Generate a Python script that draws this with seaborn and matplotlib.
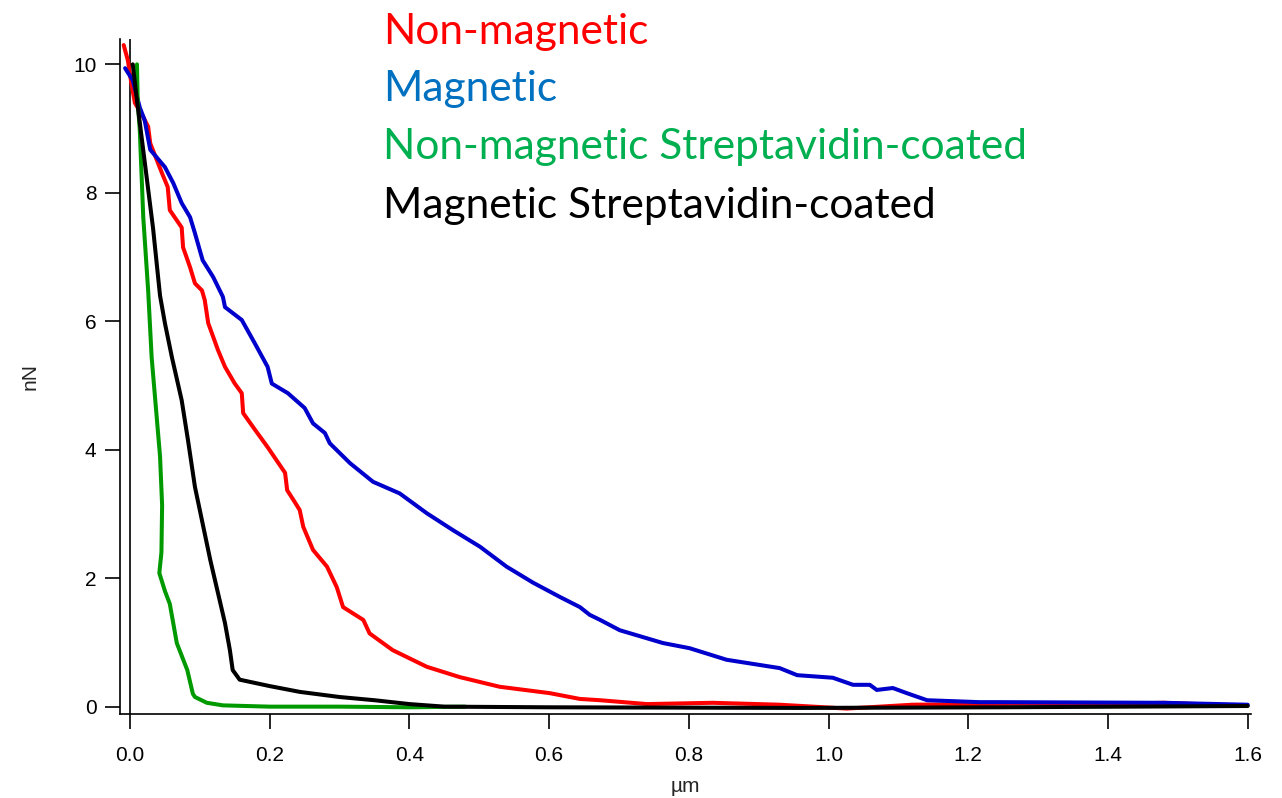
import matplotlib
matplotlib.use("Agg")
import matplotlib.pyplot as plt
import seaborn as sns
import pandas as pd

# force (nN) vs separation (um)
red_x = [-0.009, -0.003, 0.002, 0.007, 0.018, 0.026, 0.029, 0.046, 0.054, 0.057, 0.074, 0.076,
         0.086, 0.093, 0.103, 0.107, 0.112, 0.126, 0.136, 0.15, 0.16, 0.162, 0.179, 0.197,
         0.222, 0.225, 0.235, 0.243, 0.248, 0.262, 0.282, 0.296, 0.305, 0.334, 0.343, 0.376,
         0.425, 0.472, 0.529, 0.601, 0.644, 0.673, 0.74, 0.834, 0.93, 1.026, 1.12, 1.216,
         1.3, 1.4, 1.48, 1.55]
red_y = [10.3, 10.06, 9.7, 9.4, 9.2, 9.03, 8.77, 8.3, 8.09, 7.73, 7.46, 7.15,
         6.84, 6.59, 6.48, 6.33, 5.97, 5.55, 5.29, 5.03, 4.88, 4.57, 4.31, 4.04,
         3.64, 3.37, 3.2, 3.06, 2.8, 2.44, 2.18, 1.86, 1.55, 1.35, 1.14, 0.88,
         0.62, 0.46, 0.31, 0.21, 0.12, 0.1, 0.04, 0.06, 0.03, -0.03, 0.03, 0.04,
         0.05, 0.04, 0.06, 0.03]

blue_x = [-0.007, 0.004, 0.014, 0.021, 0.029, 0.05, 0.062, 0.074, 0.086, 0.093, 0.104, 0.119,
          0.133, 0.136, 0.16, 0.179, 0.197, 0.203, 0.226, 0.25, 0.262, 0.279, 0.286, 0.315,
          0.348, 0.386, 0.425, 0.462, 0.501, 0.539, 0.577, 0.615, 0.644, 0.658, 0.673, 0.701,
          0.763, 0.801, 0.854, 0.93, 0.955, 1.006, 1.035, 1.059, 1.069, 1.092, 1.112, 1.141,
          1.216, 1.245, 1.48, 1.6]
blue_y = [9.94, 9.75, 9.33, 9.13, 8.67, 8.4, 8.15, 7.84, 7.62, 7.37, 6.95, 6.69,
          6.38, 6.22, 6.02, 5.65, 5.29, 5.03, 4.88, 4.65, 4.41, 4.26, 4.1, 3.79,
          3.5, 3.32, 3.01, 2.75, 2.49, 2.18, 1.93, 1.71, 1.55, 1.43, 1.35, 1.19,
          0.99, 0.91, 0.73, 0.6, 0.49, 0.45, 0.34, 0.34, 0.26, 0.29, 0.21, 0.1,
          0.07, 0.07, 0.06, 0.03]

green_x = [0.01, 0.011, 0.014, 0.019, 0.026, 0.031, 0.039, 0.043, 0.046, 0.046, 0.045, 0.042,
           0.05, 0.057, 0.067, 0.082, 0.09, 0.093, 0.11, 0.133, 0.2, 0.3, 0.4, 0.48]
green_y = [10.0, 9.44, 8.98, 7.62, 6.48, 5.44, 4.41, 3.9, 3.37, 2.9, 2.4, 2.08,
           1.8, 1.6, 0.99, 0.57, 0.2, 0.15, 0.06, 0.02, 0.0, 0.0, -0.01, 0.0]

black_x = [0.004, 0.01, 0.033, 0.043, 0.05, 0.06, 0.074, 0.083, 0.093, 0.115, 0.136, 0.143,
           0.147, 0.157, 0.2, 0.243, 0.3, 0.35, 0.4, 0.45, 0.6, 0.96, 1.245, 1.6]
black_y = [10.0, 9.44, 7.45, 6.4, 5.97, 5.44, 4.77, 4.15, 3.42, 2.28, 1.3, 0.88,
           0.57, 0.42, 0.32, 0.23, 0.15, 0.1, 0.04, 0.0, -0.01, -0.02, -0.01, 0.01]

labels = ["Non-magnetic", "Magnetic", "Non-magnetic Streptavidin-coated", "Magnetic Streptavidin-coated"]
line_colors = ["#ff0000", "#0000cc", "#009a00", "#000000"]
text_colors = ["#ff0000", "#0070c0", "#00b050", "#000000"]

sns.set_style("ticks")
plt.rcParams['font.family'] = ['Liberation Sans', 'DejaVu Sans']

fig = plt.figure(figsize=(12.82, 7.98), dpi=100)
ax = fig.add_axes([0.0936, 0.1053, 0.8824, 0.8463])

ax.axvline(0, color="black", lw=1.2, zorder=1)

series = [(red_x, red_y), (blue_x, blue_y), (green_x, green_y), (black_x, black_y)]
for (xs, ys), c in zip(series, line_colors):
    df = pd.DataFrame({"x": xs, "y": ys})
    sns.lineplot(data=df, x="x", y="y", sort=False, color=c, lw=2.9, ax=ax, zorder=3)

ax.set_xlim(-0.0143, 1.605)
ax.set_ylim(-0.114, 10.4)
ax.set_xticks([0.0, 0.2, 0.4, 0.6, 0.8, 1.0, 1.2, 1.4, 1.6])
ax.set_xticklabels(["0.0", "0.2", "0.4", "0.6", "0.8", "1.0", "1.2", "1.4", "1.6"])
ax.set_yticks([0, 2, 4, 6, 8, 10])
ax.tick_params(direction="out", length=11, width=1.2, colors="black", labelsize=15)
ax.tick_params(axis="x", pad=12)
ax.tick_params(axis="y", pad=6)
ax.set_xlabel("µm", fontsize=15, labelpad=9)
ax.set_ylabel("nN", fontsize=15, labelpad=24)
for s in ["top", "right"]:
    ax.spines[s].set_visible(False)
for s in ["left", "bottom"]:
    ax.spines[s].set_linewidth(1.2)
    ax.spines[s].set_color("black")

# legend-like labels written as colored text
baselines = [44, 101, 159, 218]
for lab, c, b in zip(labels, text_colors, baselines):
    fig.text(383 / 1282, 1 - b / 798, lab, color=c, fontsize=30.5, va="baseline", ha="left",
             family=["Lato", "DejaVu Sans"])

fig.savefig("out.png", dpi=100)
